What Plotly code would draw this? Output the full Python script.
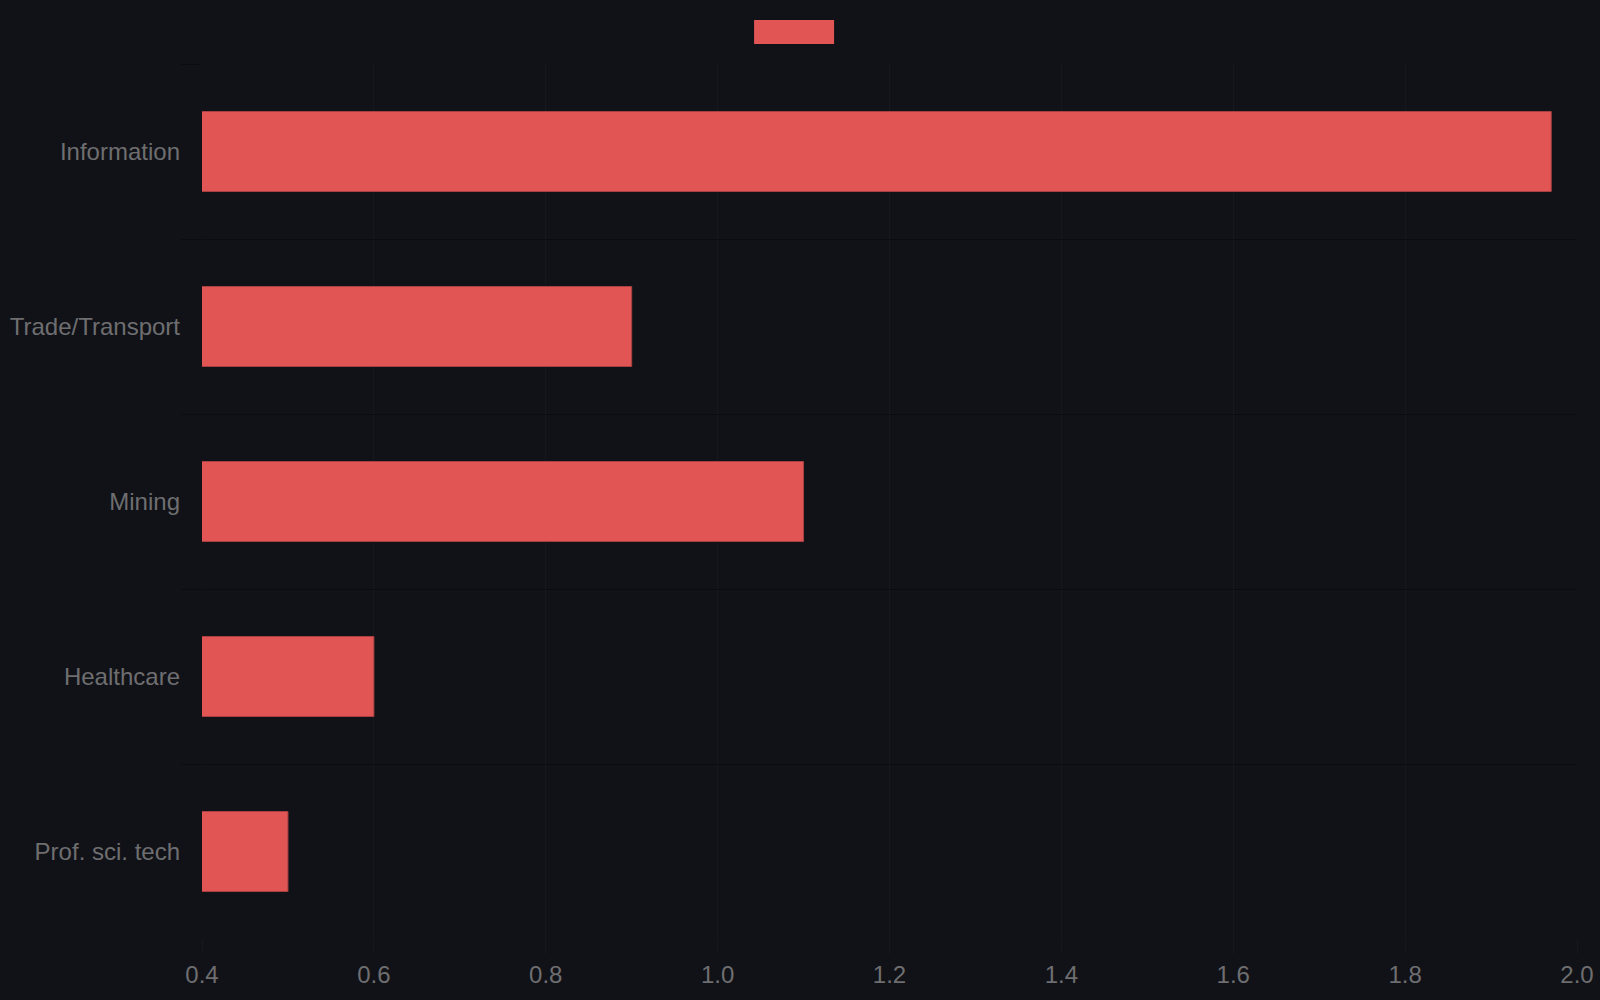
import plotly.graph_objects as go

# data
sectors = ["Information", "Trade/Transport", "Mining", "Healthcare", "Prof. sci. tech"]
values = [1.97, 0.9, 1.1, 0.6, 0.5]
x_ticks = [0.4, 0.6, 0.8, 1.0, 1.2, 1.4, 1.6, 1.8, 2.0]

BG = "#111217"
BAR = "#e15554"
TEXT = "#6e6e70"

fig = go.Figure()
fig.add_trace(
    go.Bar(
        x=values,
        y=sectors,
        orientation="h",
        base=0,
        marker=dict(color=BAR, line=dict(color="#a84242", width=1)),
        showlegend=False,
    )
)

# legend swatch (series has no name in the source)
fig.add_shape(
    type="rect",
    xref="paper", yref="paper",
    xsizemode="pixel", ysizemode="pixel",
    xanchor=0.4306, yanchor=1.0366,
    x0=-40, x1=40, y0=-12, y1=12,
    fillcolor=BAR, line=dict(width=0),
)

fig.update_layout(
    width=1600,
    height=1000,
    paper_bgcolor=BG,
    plot_bgcolor=BG,
    margin=dict(l=202, r=23, t=64, b=61),
    bargap=0.543,
    font=dict(family="Liberation Sans, Arial, sans-serif", size=24, color=TEXT),
    xaxis=dict(
        range=[0.4, 2.0],
        tickvals=x_ticks,
        ticktext=[f"{v:.1f}" for v in x_ticks],
        showgrid=True,
        gridcolor="#17181d",
        ticks="outside",
        ticklen=14,
        tickcolor="#17181d",
        zeroline=False,
        showline=False,
        automargin=False,
    ),
    yaxis=dict(
        categoryorder="array",
        categoryarray=sectors,
        autorange="reversed",
        tickson="boundaries",
        showgrid=True,
        gridcolor="#0b0c0f",
        ticks="outside",
        ticklen=20,
        tickcolor="#0b0c0f",
        ticklabelstandoff=21,
        zeroline=False,
        showline=False,
        automargin=False,
    ),
)

# no white page border around the figure
fig.write_html(
    "out.html",
    config={"displayModeBar": False},
    post_script="document.body.style.margin='0';document.body.style.background='#111217';",
)
